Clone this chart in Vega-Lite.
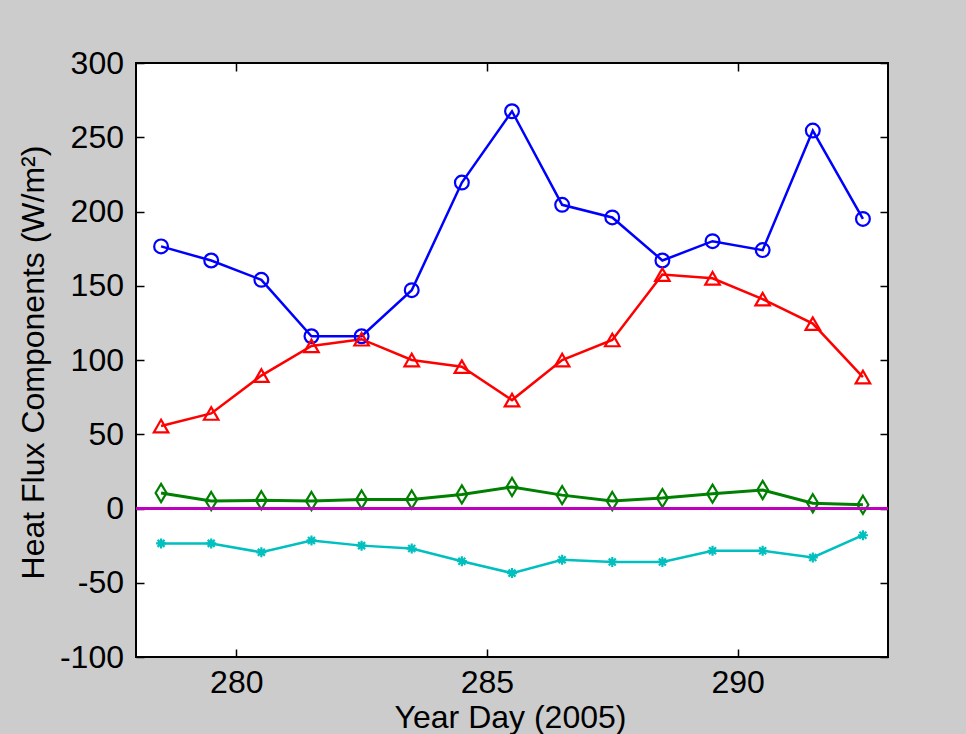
{
  "$schema": "https://vega.github.io/schema/vega-lite/v6.json",
  "width": 752,
  "height": 594,
  "autosize": {"type": "none"},
  "padding": {"left": 136, "top": 63, "right": 78, "bottom": 77},
  "background": "#cccccc",
  "config": {
    "view": {"fill": "white", "stroke": "black", "strokeWidth": 2},
    "font": "Liberation Sans"
  },
  "data": {
    "values": [
      {"day": 278.5, "series": "S1", "value": 176.5},
      {"day": 279.5, "series": "S1", "value": 167},
      {"day": 280.5, "series": "S1", "value": 154},
      {"day": 281.5, "series": "S1", "value": 116},
      {"day": 282.5, "series": "S1", "value": 116},
      {"day": 283.5, "series": "S1", "value": 147},
      {"day": 284.5, "series": "S1", "value": 219.5},
      {"day": 285.5, "series": "S1", "value": 267.5},
      {"day": 286.5, "series": "S1", "value": 204.5},
      {"day": 287.5, "series": "S1", "value": 196},
      {"day": 288.5, "series": "S1", "value": 167},
      {"day": 289.5, "series": "S1", "value": 180},
      {"day": 290.5, "series": "S1", "value": 174},
      {"day": 291.5, "series": "S1", "value": 254.5},
      {"day": 292.5, "series": "S1", "value": 195},
      {"day": 278.5, "series": "S2", "value": 55.5},
      {"day": 279.5, "series": "S2", "value": 64},
      {"day": 280.5, "series": "S2", "value": 89.5},
      {"day": 281.5, "series": "S2", "value": 109.5},
      {"day": 282.5, "series": "S2", "value": 114},
      {"day": 283.5, "series": "S2", "value": 100},
      {"day": 284.5, "series": "S2", "value": 95.5},
      {"day": 285.5, "series": "S2", "value": 73},
      {"day": 286.5, "series": "S2", "value": 100},
      {"day": 287.5, "series": "S2", "value": 113.5},
      {"day": 288.5, "series": "S2", "value": 157.5},
      {"day": 289.5, "series": "S2", "value": 155},
      {"day": 290.5, "series": "S2", "value": 141},
      {"day": 291.5, "series": "S2", "value": 124.5},
      {"day": 292.5, "series": "S2", "value": 88.5},
      {"day": 278.5, "series": "S3", "value": 10.5},
      {"day": 279.5, "series": "S3", "value": 5},
      {"day": 280.5, "series": "S3", "value": 5.5},
      {"day": 281.5, "series": "S3", "value": 5},
      {"day": 282.5, "series": "S3", "value": 6},
      {"day": 283.5, "series": "S3", "value": 6},
      {"day": 284.5, "series": "S3", "value": 9.5},
      {"day": 285.5, "series": "S3", "value": 14.5},
      {"day": 286.5, "series": "S3", "value": 9},
      {"day": 287.5, "series": "S3", "value": 5},
      {"day": 288.5, "series": "S3", "value": 7},
      {"day": 289.5, "series": "S3", "value": 10},
      {"day": 290.5, "series": "S3", "value": 12.5},
      {"day": 291.5, "series": "S3", "value": 3.5},
      {"day": 292.5, "series": "S3", "value": 2.5},
      {"day": 278.5, "series": "S4", "value": -23.5},
      {"day": 279.5, "series": "S4", "value": -23.5},
      {"day": 280.5, "series": "S4", "value": -29.5},
      {"day": 281.5, "series": "S4", "value": -21.5},
      {"day": 282.5, "series": "S4", "value": -25},
      {"day": 283.5, "series": "S4", "value": -27},
      {"day": 284.5, "series": "S4", "value": -35.5},
      {"day": 285.5, "series": "S4", "value": -43.5},
      {"day": 286.5, "series": "S4", "value": -34.5},
      {"day": 287.5, "series": "S4", "value": -36},
      {"day": 288.5, "series": "S4", "value": -36},
      {"day": 289.5, "series": "S4", "value": -28.5},
      {"day": 290.5, "series": "S4", "value": -28.5},
      {"day": 291.5, "series": "S4", "value": -33},
      {"day": 292.5, "series": "S4", "value": -18}
    ]
  },
  "layer": [
    {
      "mark": {"type": "line"},
      "encoding": {
        "x": {
          "field": "day", "type": "quantitative",
          "scale": {"domain": [278, 293], "nice": false, "zero": false},
          "axis": {
            "orient": "bottom", "values": [280, 285, 290], "title": "Year Day (2005)",
            "grid": false, "domain": false, "tickSize": -8, "tickColor": "black", "tickWidth": 1.5,
            "labelFontSize": 32, "labelColor": "black", "labelPadding": 18, "labelBaseline": "top",
            "labelFont": "Liberation Sans", "labelFlush": false,
            "titleFont": "Liberation Sans", "titleFontSize": 32, "titleFontWeight": "normal", "titleColor": "black",
            "titleX": 374, "titleY": 70, "titleBaseline": "alphabetic", "titleAlign": "center"
          }
        },
        "y": {
          "field": "value", "type": "quantitative",
          "scale": {"domain": [-100, 300], "nice": false, "zero": false},
          "axis": {
            "orient": "left", "values": [-100, -50, 0, 50, 100, 150, 200, 250, 300],
            "labelExpr": "datum.value < 0 ? '-' + abs(datum.value) : '' + datum.value",
            "title": "Heat Flux Components (W/m²)",
            "grid": false, "domain": false, "tickSize": -8, "tickColor": "black", "tickWidth": 1.5,
            "labelFontSize": 32, "labelColor": "black", "labelPadding": 20.5, "labelAlign": "right", "labelBaseline": "middle",
            "labelFont": "Liberation Sans", "labelFlush": false,
            "titleFont": "Liberation Sans", "titleFontSize": 32, "titleFontWeight": "normal", "titleColor": "black",
            "titleX": -93, "titleY": 299, "titleAngle": -90, "titleBaseline": "alphabetic", "titleAlign": "center"
          }
        },
        "color": {
          "field": "series", "type": "nominal",
          "scale": {"domain": ["S1", "S2", "S3", "S4"], "range": ["#0000ff", "#ff0000", "#008000", "#00bfbf"]},
          "legend": null
        },
        "strokeWidth": {
          "field": "series", "type": "ordinal",
          "scale": {"type": "ordinal", "domain": ["S1", "S2", "S3", "S4"], "range": [2.5, 2.5, 3, 2.5]},
          "legend": null
        }
      }
    },
    {
      "mark": {"type": "point", "filled": false, "opacity": 1, "strokeWidth": 2.2},
      "encoding": {
        "x": {
          "field": "day", "type": "quantitative",
          "scale": {"domain": [278, 293], "nice": false, "zero": false},
          "axis": {
            "orient": "top", "values": [280, 285, 290], "title": null, "labels": false,
            "grid": false, "domain": false, "tickSize": -8, "tickColor": "black", "tickWidth": 1.5
          }
        },
        "y": {
          "field": "value", "type": "quantitative",
          "scale": {"domain": [-100, 300], "nice": false, "zero": false},
          "axis": {
            "orient": "right", "values": [-100, -50, 0, 50, 100, 150, 200, 250, 300], "title": null, "labels": false,
            "grid": false, "domain": false, "tickSize": -8, "tickColor": "black", "tickWidth": 1.5
          }
        },
        "color": {
          "field": "series", "type": "nominal",
          "scale": {"domain": ["S1", "S2", "S3", "S4"], "range": ["#0000ff", "#ff0000", "#008000", "#00bfbf"]},
          "legend": null
        },
        "shape": {
          "field": "series", "type": "nominal",
          "scale": {"domain": ["S1", "S2", "S3", "S4"], "range": ["circle", "triangle-up", "M0,-1L0.6,0L0,1L-0.6,0Z", "M-1,0L1,0M0,-1L0,1M-0.7,-0.7L0.7,0.7M-0.7,0.7L0.7,-0.7"]},
          "legend": null
        },
        "size": {
          "field": "series", "type": "ordinal",
          "scale": {"type": "ordinal", "domain": ["S1", "S2", "S3", "S4"], "range": [190, 210, 330, 100]},
          "legend": null
        }
      }
    },
    {
      "mark": {"type": "rule", "color": "#bf00bf", "strokeWidth": 2.5},
      "encoding": {
        "y": {"datum": 0, "type": "quantitative", "axis": null}
      }
    }
  ],
  "resolve": {"axis": {"x": "independent", "y": "independent"}}
}
